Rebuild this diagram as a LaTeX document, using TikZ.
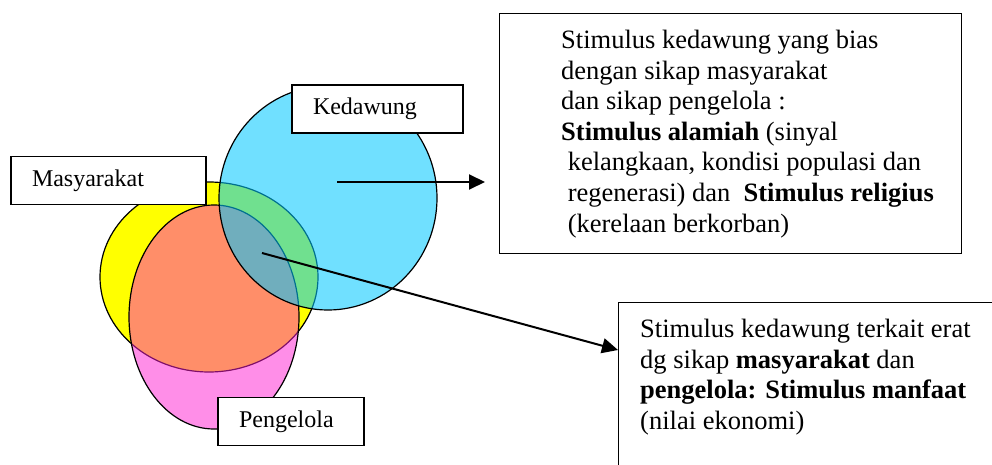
\documentclass[tikz,border=0pt]{standalone}
\usepackage{fontspec}
\setmainfont{Liberation Serif}
\usetikzlibrary{arrows.meta}
\definecolor{kedawungblue}{RGB}{0,200,255}
\definecolor{masyyellow}{RGB}{255,255,0}
\definecolor{pengpink}{RGB}{255,30,210}

\begin{document}
\begin{tikzpicture}[x=1pt,y=-1pt,
    namebox/.style={draw,fill=white,line width=1.2pt,inner xsep=21pt,inner ysep=0pt,
      align=left,minimum height=48pt,font=\fontsize{24}{29}\selectfont},
    notebox/.style={draw,fill=white,line width=1.2pt,anchor=north west},
    notetext/.style={inner sep=0pt,anchor=north west,align=left,
      font=\fontsize{26.5}{30.6}\selectfont},
    setline/.style={draw=black,line width=1.2pt},
    pointer/.style={line width=2pt,-{Triangle[length=16pt,width=15pt]}}]
  \useasboundingbox (0,0) rectangle (992,465);

  %% the three sets
  \draw[setline,fill=masyyellow] (209,277) ellipse [x radius=109,y radius=95];
  \draw[setline,fill=pengpink,fill opacity=.5] (214,317) ellipse [x radius=85,y radius=112];
  \draw[setline,fill=kedawungblue,fill opacity=.56] (328,198) ellipse [x radius=109,y radius=112];

  %% set names
  \node (masyarakat) [namebox,text width=153pt] at (108.5,180.5) {Masyarakat};
  \node (kedawung) [namebox,text width=129pt] at (377.5,109) {Kedawung};
  \node (pengelola) [namebox,text width=104pt] at (291,421.5) {Pengelola};

  %% upper note
  \node (alamiBox) [notebox,minimum width=462pt,minimum height=240pt] at (499,13) {};
  \node (alamiText) [notetext] at (561,30) {Stimulus kedawung yang bias\\
    dengan sikap masyarakat\\
    dan sikap pengelola :\\
    \textbf{Stimulus alamiah} (sinyal\\
    \ kelangkaan, kondisi populasi dan\\
    \ regenerasi) dan \ \textbf{Stimulus religius}\\
    \ (kerelaan berkorban)};

  %% lower note
  \node (manfaatBox) [notebox,minimum width=420pt,minimum height=220pt] at (618,302) {};
  \node (manfaatText) [notetext] at (640,319) {Stimulus kedawung terkait erat\\
    dg sikap \textbf{masyarakat} dan\\
    \textbf{pengelola: Stimulus manfaat}\\
    (nilai ekonomi)};

  %% pointers
  \coordinate (biasFrom) at (337,182);
  \coordinate (biasTo) at (485,182);
  \coordinate (eratFrom) at (262,253);
  \coordinate (eratTo) at (618,350);
  \draw[pointer] (biasFrom) -- (biasTo);
  \draw[pointer] (eratFrom) -- (eratTo);
\end{tikzpicture}
\end{document}
